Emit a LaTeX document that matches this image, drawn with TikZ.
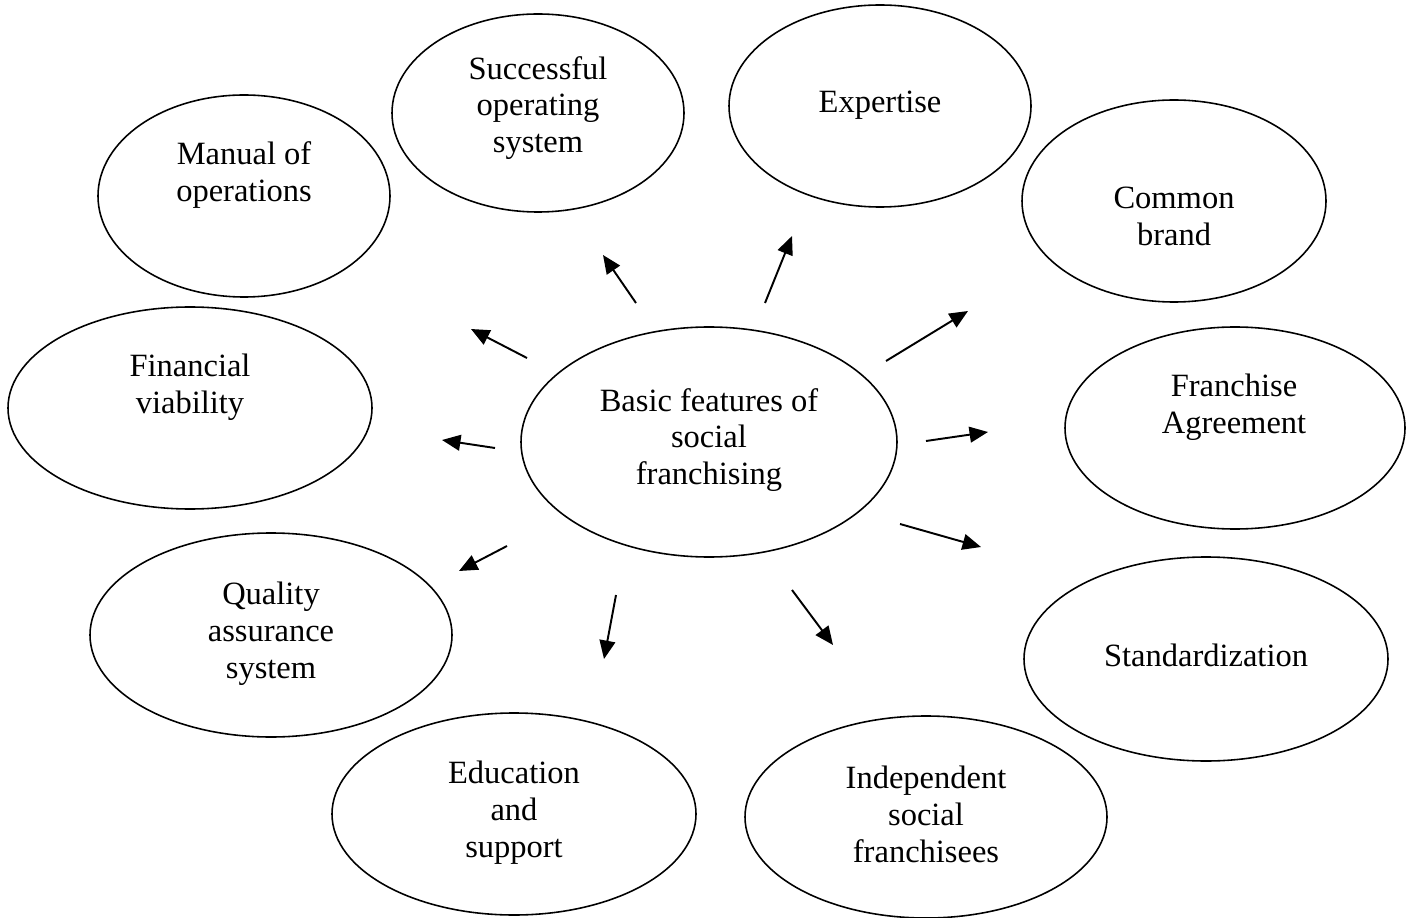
\documentclass[tikz,border=0pt]{standalone}
\usepackage{fontspec}
\setmainfont{Liberation Serif}
\usetikzlibrary{arrows.meta}

\tikzset{
  bubble/.style={line width=0.9pt},
  txt/.style={align=center,font=\fontsize{18.5}{21}\selectfont,inner sep=0pt},
  pointer/.style={line width=1.1pt,-{Triangle[length=10.5pt,width=9pt]}}
}

\begin{document}
\begin{tikzpicture}[x=0.02cm,y=-0.02cm]
    \useasboundingbox (0,0) rectangle (1415,918);

    % the ring of features
    \draw[bubble] (244,196) ellipse (146 and 101);
    \draw[bubble] (538,113) ellipse (146 and 99);
    \draw[bubble] (880,106) ellipse (151 and 101);
    \draw[bubble] (1174,201) ellipse (152 and 101);
    \draw[bubble] (190,408) ellipse (182 and 101);
    \draw[bubble] (1235,428) ellipse (170 and 101);
    \draw[bubble] (271,635) ellipse (181 and 102);
    \draw[bubble] (1206,659) ellipse (182 and 102);
    \draw[bubble] (514,814) ellipse (182 and 101);
    \draw[bubble] (926,817) ellipse (181 and 101);

    % centre
    \draw[bubble] (709,442) ellipse (188 and 115);

    \node[txt] (basic) at (709,440) {Basic features of\\social\\franchising};
    \node[txt] (manual) at (244,175) {Manual of\\operations};
    \node[txt] (system) at (538,108) {Successful\\operating\\system};
    \node[txt] (expert) at (880,105) {Expertise};
    \node[txt] (brand) at (1174,216) {Common\\brand};
    \node[txt] (finance) at (190,387) {Financial\\viability};
    \node[txt] (agree) at (1234,407) {Franchise\\Agreement};
    \node[txt] (quality) at (271,634) {Quality\\assurance\\system};
    \node[txt] (standard) at (1206,655) {Standardization};
    \node[txt] (educ) at (514,813) {Education\\and\\support};
    \node[txt] (indep) at (926,814) {Independent\\social\\franchisees};

    % arrow ends
    \coordinate (s1) at (636,303); \coordinate (e1) at (603,255);
    \coordinate (s2) at (765,303); \coordinate (e2) at (792,236);
    \coordinate (s3) at (527,358); \coordinate (e3) at (471,329);
    \coordinate (s4) at (886,361); \coordinate (e4) at (968,311);
    \coordinate (s5) at (495,448); \coordinate (e5) at (442,440);
    \coordinate (s6) at (926,441); \coordinate (e6) at (988,432);
    \coordinate (s7) at (507,546); \coordinate (e7) at (459,571);
    \coordinate (s8) at (900,524); \coordinate (e8) at (981,547);
    \coordinate (s9) at (616,595); \coordinate (e9) at (604,659);
    \coordinate (s10) at (792,590); \coordinate (e10) at (833,645);

    \foreach \i in {1,...,10}
        \draw[pointer] (s\i) -- (e\i);

\end{tikzpicture}
\end{document}
